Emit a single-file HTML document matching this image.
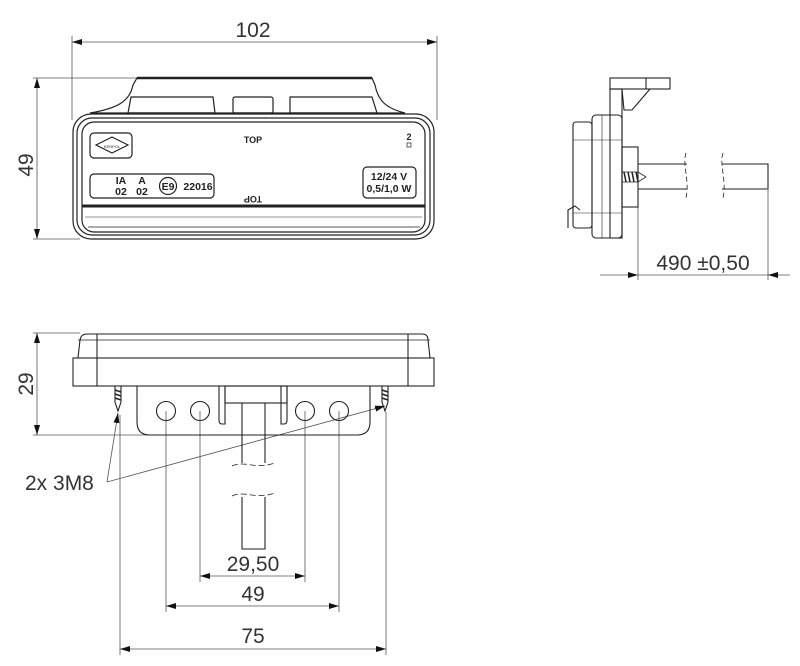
<!DOCTYPE html>
<html><head><meta charset="utf-8"><style>
html,body{margin:0;padding:0;background:#fff;}
svg{display:block;}
text{font-family:"Liberation Sans",sans-serif;fill:#222;}
.d{font-size:21px;fill:#333;}
</style></head><body>
<svg width="800" height="666" viewBox="0 0 800 666" xmlns="http://www.w3.org/2000/svg">
<defs>
<marker id="a" viewBox="0 0 10 6" refX="10" refY="3" markerWidth="10" markerHeight="6" orient="auto-start-reverse" markerUnits="userSpaceOnUse"><path d="M0,0 L10,3 L0,6 z" fill="#111"/></marker>
</defs>
<g stroke="#555" stroke-width="0.8" fill="none">
<line x1="72" y1="36" x2="72" y2="120"/><line x1="437" y1="36" x2="437" y2="120"/>
<line x1="72" y1="42" x2="437" y2="42" marker-start="url(#a)" marker-end="url(#a)"/>
<line x1="33" y1="78" x2="140" y2="78"/><line x1="33" y1="239" x2="80" y2="239"/>
<line x1="37" y1="78" x2="37" y2="239" marker-start="url(#a)" marker-end="url(#a)"/>
<line x1="33" y1="333" x2="80" y2="333"/><line x1="33" y1="435" x2="242" y2="435"/>
<line x1="37" y1="333" x2="37" y2="435" marker-start="url(#a)" marker-end="url(#a)"/>
<line x1="638" y1="200" x2="638" y2="280"/><line x1="768" y1="190" x2="768" y2="280"/>
<line x1="600" y1="275" x2="638" y2="275" marker-end="url(#a)"/>
<line x1="638" y1="275" x2="768" y2="275"/>
<line x1="790" y1="275" x2="768" y2="275" marker-end="url(#a)"/>
<line x1="120" y1="415" x2="120" y2="655"/><line x1="386" y1="412" x2="386" y2="655"/>
<line x1="166" y1="411" x2="166" y2="612"/><line x1="339" y1="411" x2="339" y2="612"/>
<line x1="200" y1="411" x2="200" y2="582"/><line x1="305" y1="411" x2="305" y2="582"/>
<line x1="200" y1="576" x2="305" y2="576" marker-start="url(#a)" marker-end="url(#a)"/>
<line x1="166" y1="606" x2="339" y2="606" marker-start="url(#a)" marker-end="url(#a)"/>
<line x1="120" y1="649" x2="386" y2="649" marker-start="url(#a)" marker-end="url(#a)"/>
<line x1="107" y1="482" x2="118" y2="413" marker-end="url(#a)"/>
<line x1="107" y1="482" x2="385" y2="406" marker-end="url(#a)"/>
</g>
<text class="d" x="253" y="37" text-anchor="middle">102</text>
<text class="d" transform="translate(33,165) rotate(-90)" text-anchor="middle">49</text>
<text class="d" transform="translate(33,384) rotate(-90)" text-anchor="middle">29</text>
<text class="d" x="703" y="270" text-anchor="middle">490 ±0,50</text>
<text class="d" x="253" y="571" text-anchor="middle">29,50</text>
<text class="d" x="253" y="601" text-anchor="middle">49</text>
<text class="d" x="253" y="643" text-anchor="middle">75</text>
<text class="d" x="25" y="490">2x 3M8</text>

<g stroke="#222" stroke-width="1.2" fill="none">
<path d="M137,78 L372,78 L375,85 C378,100 385,108 405,113 L90,113 C120,108 130,100 133,85 Z"/>
<line x1="137" y1="78" x2="372" y2="78" stroke-width="2.5"/>
<path d="M131,97 L213,97 L215,113 L128,113 Z"/>
<rect x="233" y="97" width="40" height="16" rx="2"/>
<path d="M290,97 L372,97 L377,113 L290,113 Z"/>
<rect x="73" y="114" width="361" height="125" rx="18"/>
<rect x="77" y="118" width="353" height="117" rx="15"/>
<rect x="82" y="122" width="343" height="110" rx="12"/>
<rect x="90" y="133" width="42" height="25" rx="4"/>
<path d="M96,145 L112,137 L128,145 L112,153 Z"/>
<rect x="90" y="174" width="124" height="24" rx="4"/>
<rect x="363" y="167" width="53" height="31" rx="4"/>
<circle cx="168" cy="186" r="8.5"/>
<line x1="82" y1="206" x2="425" y2="206" stroke-width="3"/>
<line x1="85" y1="217" x2="422" y2="217" stroke-width="0.6"/>
<line x1="88" y1="227" x2="420" y2="227" stroke-width="0.8"/>
<rect x="407" y="143" width="4" height="4" stroke-width="0.7"/>
</g>
<text x="253" y="143" font-size="9" font-weight="bold" text-anchor="middle">TOP</text>
<text x="409" y="140" font-size="9" font-weight="bold" text-anchor="middle">2</text>
<text x="112" y="148" font-size="4" text-anchor="middle">KERPOL</text>
<g font-size="10.5" font-weight="bold" text-anchor="middle">
<text x="121" y="184">IA</text>
<text x="121" y="195">02</text>
<text x="142" y="184">A</text>
<text x="142" y="195">02</text>
<text x="168" y="190">E9</text>
<text x="198" y="190">22016</text>
<text x="389" y="180">12/24 V</text>
<text x="389" y="192">0,5/1,0 W</text>
</g>
<text transform="translate(253,196) rotate(180)" font-size="9" font-weight="bold" text-anchor="middle">TOP</text>

<g stroke="#222" stroke-width="1.1" fill="none">
<rect x="610" y="78" width="60" height="11"/>
<line x1="646" y1="78" x2="646" y2="89"/>
<rect x="610" y="89" width="12" height="149"/>
<path d="M622,89 L624,110 L632,110 L650,89"/>
<rect x="592" y="115" width="30" height="123" rx="4"/>
<rect x="573" y="122" width="19" height="106" rx="3"/>
<line x1="573" y1="140" x2="622" y2="140" stroke-width="0.6"/>
<line x1="573" y1="213" x2="622" y2="213" stroke-width="0.6"/>
<line x1="602" y1="115" x2="602" y2="238" stroke-width="0.6"/>
<path d="M568,228 L568,210 L575,206 L580,210"/>
<rect x="622" y="147" width="16" height="60"/>
<path d="M638,164 L687,164 M638,189 L687,189 M722,164 L768,164 L768,189 L722,189"/>
<path d="M686,153 C682,165 690,180 686,198 M723,153 C719,165 727,180 723,198" stroke-dasharray="5,3" stroke-width="0.8"/>
<path d="M622,172 L638,172 L646,177 L638,182 L622,182" stroke-width="0.8"/>
<path d="M624,172 L626,182 M628,172 L630,182 M632,172 L634,182 M636,172 L638,182" stroke-width="1.5"/>
</g>

<g stroke="#222" stroke-width="1.1" fill="none">
<path d="M78,358 L80,340 Q81,334 87,334 L422,334 Q428,334 428,340 L430,358"/>
<line x1="78" y1="340" x2="430" y2="340" stroke-width="0.7"/>
<rect x="73" y="358" width="361" height="28"/>
<line x1="97" y1="334" x2="97" y2="386"/><line x1="408" y1="334" x2="408" y2="386"/>
<path d="M137,386 L137,422 Q137,435 150,435 L357,435 Q370,435 370,422 L370,386"/>
<circle cx="166" cy="411" r="9.5"/><circle cx="200" cy="411" r="9.5"/>
<circle cx="305" cy="411" r="9.5"/><circle cx="339" cy="411" r="9.5"/>
<rect x="225" y="386" width="62" height="17"/>
<path d="M219,386 L219,420 Q219,424 222,424 L225,424 L225,386 M281,386 L281,424 L284,424 Q287,424 287,420 L287,386"/>
<path d="M242,403 L242,463 M265,403 L265,463 M242,497 L242,549 L265,549 L265,497"/>
<path d="M232,466 C245,460 255,470 275,463 M232,496 C245,490 255,500 275,493" stroke-dasharray="6,3" stroke-width="0.8"/>
<path d="M115,386 L115,402 L118,411 L121,402 L121,386 M382,386 L382,402 L385,411 L388,402 L388,386"/>
<path d="M115,390 L121,392 M115,394 L121,396 M115,398 L121,400 M382,390 L388,392 M382,394 L388,396 M382,398 L388,400" stroke-width="1.5"/>
</g>
</svg>
</body></html>
